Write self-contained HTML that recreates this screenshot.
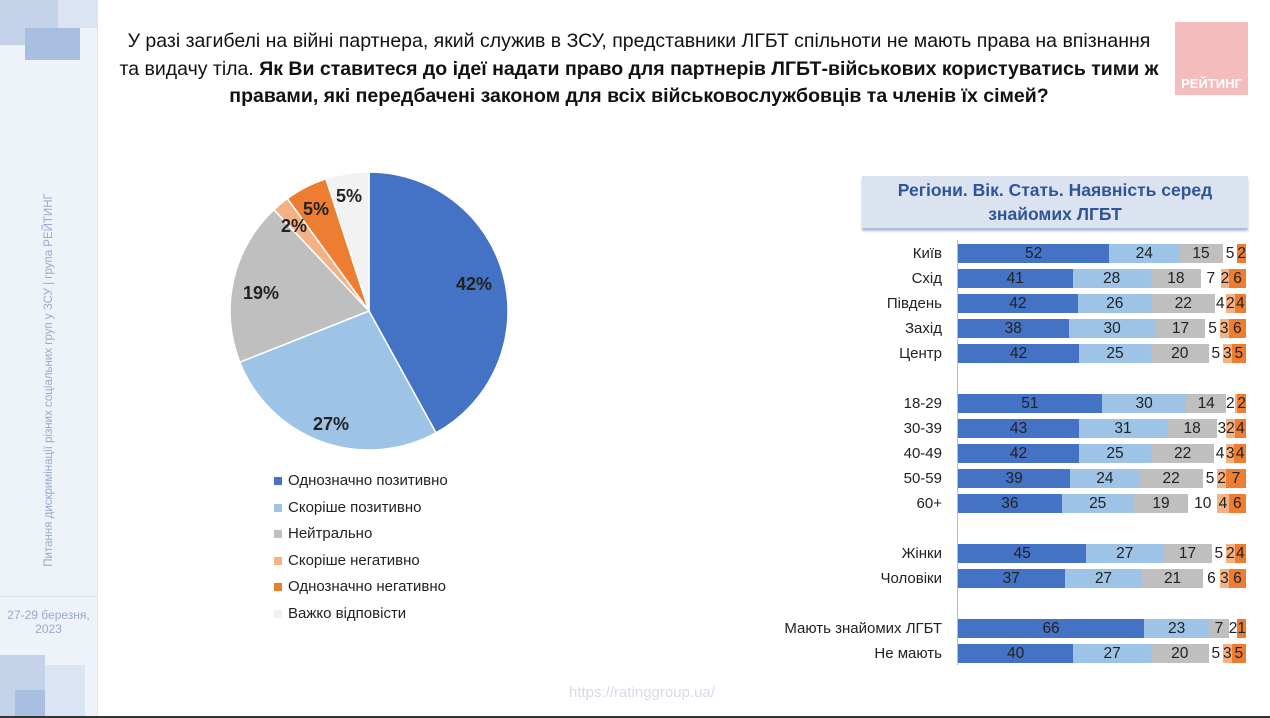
<!DOCTYPE html>
<html><head><meta charset="utf-8"><style>
body{margin:0;width:1270px;height:718px;background:#fff;font-family:"Liberation Sans",sans-serif;position:relative;overflow:hidden}
.side{position:absolute;left:0;top:0;width:97px;height:716px;background:#eef2f9;border-right:1px solid #e2e8f2}
.sq{position:absolute}
.title{position:absolute;left:100px;top:28px;width:1078px;text-align:center;font-size:19.5px;line-height:27.5px;color:#111;white-space:nowrap}
.logo{position:absolute;left:1175px;top:22px;width:73px;height:73px;background:#f4bcbc;color:#fff;font-weight:bold;font-size:13px;text-align:center}
.logo span{position:absolute;bottom:4px;left:0;right:0}
.box{position:absolute;left:862px;top:176px;width:386px;height:50px;background:#dce3f0;box-shadow:0 3px 2px #a9bcd8;color:#2e5597;font-weight:bold;font-size:17.5px;text-align:center;line-height:24px;padding-top:2px}
.row{position:absolute;left:958px;width:288px;height:19px;display:flex;font-size:15.5px;line-height:19px;color:#222}
.row div{text-align:center;overflow:visible;white-space:nowrap}
.lab{position:absolute;right:328px;font-size:15px;color:#222;line-height:19px}
.a{background:#4472c4}.b{background:#9dc3e6}.c{background:#bfbfbf}.d{background:#fff}.e{background:#f4b183}.f{background:#ed7d31}
.leg{position:absolute;left:288px;font-size:15px;color:#222}
.leg i{position:absolute;left:-14px;top:5px;width:8px;height:8px}
.axis{position:absolute;left:957px;top:240px;width:1px;height:425px;background:#bbb}
</style></head><body>
<div class="side">
<div class="sq" style="left:0;top:0;width:60px;height:45px;background:#c5d3ea"></div>
<div class="sq" style="left:25px;top:28px;width:55px;height:32px;background:#a9bfe2"></div>
<div class="sq" style="left:58px;top:0;width:40px;height:28px;background:#dbe4f3"></div>
<div class="sq" style="left:0;top:655px;width:45px;height:61px;background:#c5d3ea"></div>
<div class="sq" style="left:15px;top:690px;width:45px;height:26px;background:#a9bfe2"></div>
<div class="sq" style="left:45px;top:665px;width:40px;height:51px;background:#dbe4f3"></div>
<div style="position:absolute;left:0;top:596px;width:97px;border-top:1px solid #dde4ef"></div>
<div style="position:absolute;left:49px;top:380px;transform:translate(-50%,-50%) rotate(-90deg);white-space:nowrap;font-size:11.5px;color:#9aaacc">Питання дискримінації різних соціальних груп у ЗСУ  |  група РЕЙТИНГ</div>
<div style="position:absolute;left:0;width:97px;top:608px;text-align:center;font-size:12px;color:#9aaacc;line-height:14px">27-29 березня,<br>2023</div>
</div>
<div style="position:absolute;left:0;top:716px;width:1270px;height:2px;background:#333"></div>
<div class="title">У разі загибелі на війні партнера, який служив в ЗСУ, представники ЛГБТ спільноти не мають права на впізнання<br>та видачу тіла. <b>Як Ви ставитеся до ідеї надати право для партнерів ЛГБТ-військових користуватись тими ж<br>правами, які передбачені законом для всіх військовослужбовців та членів їх сімей?</b></div>
<div class="logo"><span>РЕЙТИНГ</span></div>

<svg style="position:absolute;left:0;top:0" width="1270" height="718">
<g stroke="#fff" stroke-width="1.5">
<path d="M369,311 L369,172 A139,139 0 0 1 436,432.8 Z" fill="#4472c4"/>
<path d="M369,311 L436,432.8 A139,139 0 0 1 239.8,362.2 Z" fill="#9dc3e6"/>
<path d="M369,311 L239.8,362.2 A139,139 0 0 1 273.9,209.7 Z" fill="#bfbfbf"/>
<path d="M369,311 L273.9,209.7 A139,139 0 0 1 287.3,198.5 Z" fill="#f4b183"/>
<path d="M369,311 L287.3,198.5 A139,139 0 0 1 326,178.8 Z" fill="#ed7d31"/>
<path d="M369,311 L326,178.8 A139,139 0 0 1 369,172 Z" fill="#f2f2f2"/>
</g>
<g font-family="Liberation Sans" font-weight="bold" font-size="18" fill="#222" text-anchor="middle">
<text x="474" y="290">42%</text><text x="331" y="430">27%</text><text x="261" y="299">19%</text>
<text x="294" y="232">2%</text><text x="316" y="215">5%</text><text x="349" y="202">5%</text>
</g>
</svg>

<div class="leg" style="top:472px"><i class="a"></i>Однозначно позитивно</div>
<div class="leg" style="top:499px"><i class="b"></i>Скоріше позитивно</div>
<div class="leg" style="top:525px"><i class="c"></i>Нейтрально</div>
<div class="leg" style="top:552px"><i class="e"></i>Скоріше негативно</div>
<div class="leg" style="top:578px"><i class="f"></i>Однозначно негативно</div>
<div class="leg" style="top:605px"><i style="background:#f2f2f2"></i>Важко відповісти</div>

<div class="box">Регіони. Вік. Стать. Наявність серед<br>знайомих ЛГБТ</div>
<div class="axis"></div>

<div class="lab" style="top:244px">Київ</div>
<div class="row" style="top:244px"><div class="a" style="flex:52">52</div><div class="b" style="flex:24">24</div><div class="c" style="flex:15">15</div><div class="d" style="flex:5">5</div><div class="e" style="flex:0"></div><div class="f" style="flex:2">2</div></div>
<div class="lab" style="top:269px">Схід</div>
<div class="row" style="top:269px"><div class="a" style="flex:41">41</div><div class="b" style="flex:28">28</div><div class="c" style="flex:18">18</div><div class="d" style="flex:7">7</div><div class="e" style="flex:2">2</div><div class="f" style="flex:6">6</div></div>
<div class="lab" style="top:294px">Південь</div>
<div class="row" style="top:294px"><div class="a" style="flex:42">42</div><div class="b" style="flex:26">26</div><div class="c" style="flex:22">22</div><div class="d" style="flex:4">4</div><div class="e" style="flex:2">2</div><div class="f" style="flex:4">4</div></div>
<div class="lab" style="top:319px">Захід</div>
<div class="row" style="top:319px"><div class="a" style="flex:38">38</div><div class="b" style="flex:30">30</div><div class="c" style="flex:17">17</div><div class="d" style="flex:5">5</div><div class="e" style="flex:3">3</div><div class="f" style="flex:6">6</div></div>
<div class="lab" style="top:344px">Центр</div>
<div class="row" style="top:344px"><div class="a" style="flex:42">42</div><div class="b" style="flex:25">25</div><div class="c" style="flex:20">20</div><div class="d" style="flex:5">5</div><div class="e" style="flex:3">3</div><div class="f" style="flex:5">5</div></div>

<div class="lab" style="top:394px">18-29</div>
<div class="row" style="top:394px"><div class="a" style="flex:51">51</div><div class="b" style="flex:30">30</div><div class="c" style="flex:14">14</div><div class="d" style="flex:2">2</div><div class="e" style="flex:1"></div><div class="f" style="flex:2">2</div></div>
<div class="lab" style="top:419px">30-39</div>
<div class="row" style="top:419px"><div class="a" style="flex:43">43</div><div class="b" style="flex:31">31</div><div class="c" style="flex:18">18</div><div class="d" style="flex:3">3</div><div class="e" style="flex:2">2</div><div class="f" style="flex:4">4</div></div>
<div class="lab" style="top:444px">40-49</div>
<div class="row" style="top:444px"><div class="a" style="flex:42">42</div><div class="b" style="flex:25">25</div><div class="c" style="flex:22">22</div><div class="d" style="flex:4">4</div><div class="e" style="flex:3">3</div><div class="f" style="flex:4">4</div></div>
<div class="lab" style="top:469px">50-59</div>
<div class="row" style="top:469px"><div class="a" style="flex:39">39</div><div class="b" style="flex:24">24</div><div class="c" style="flex:22">22</div><div class="d" style="flex:5">5</div><div class="e" style="flex:2">2</div><div class="f" style="flex:7">7</div></div>
<div class="lab" style="top:494px">60+</div>
<div class="row" style="top:494px"><div class="a" style="flex:36">36</div><div class="b" style="flex:25">25</div><div class="c" style="flex:19">19</div><div class="d" style="flex:10">10</div><div class="e" style="flex:4">4</div><div class="f" style="flex:6">6</div></div>

<div class="lab" style="top:544px">Жінки</div>
<div class="row" style="top:544px"><div class="a" style="flex:45">45</div><div class="b" style="flex:27">27</div><div class="c" style="flex:17">17</div><div class="d" style="flex:5">5</div><div class="e" style="flex:2">2</div><div class="f" style="flex:4">4</div></div>
<div class="lab" style="top:569px">Чоловіки</div>
<div class="row" style="top:569px"><div class="a" style="flex:37">37</div><div class="b" style="flex:27">27</div><div class="c" style="flex:21">21</div><div class="d" style="flex:6">6</div><div class="e" style="flex:3">3</div><div class="f" style="flex:6">6</div></div>

<div class="lab" style="top:619px">Мають знайомих ЛГБТ</div>
<div class="row" style="top:619px"><div class="a" style="flex:66">66</div><div class="b" style="flex:23">23</div><div class="c" style="flex:7">7</div><div class="d" style="flex:2">2</div><div class="e" style="flex:0"></div><div class="f" style="flex:1">1</div></div>
<div class="lab" style="top:644px">Не мають</div>
<div class="row" style="top:644px"><div class="a" style="flex:40">40</div><div class="b" style="flex:27">27</div><div class="c" style="flex:20">20</div><div class="d" style="flex:5">5</div><div class="e" style="flex:3">3</div><div class="f" style="flex:5">5</div></div>

<div style="position:absolute;left:569px;top:684px;font-size:15px;color:#d5dbe6">https://ratinggroup.ua/</div>
</body></html>
